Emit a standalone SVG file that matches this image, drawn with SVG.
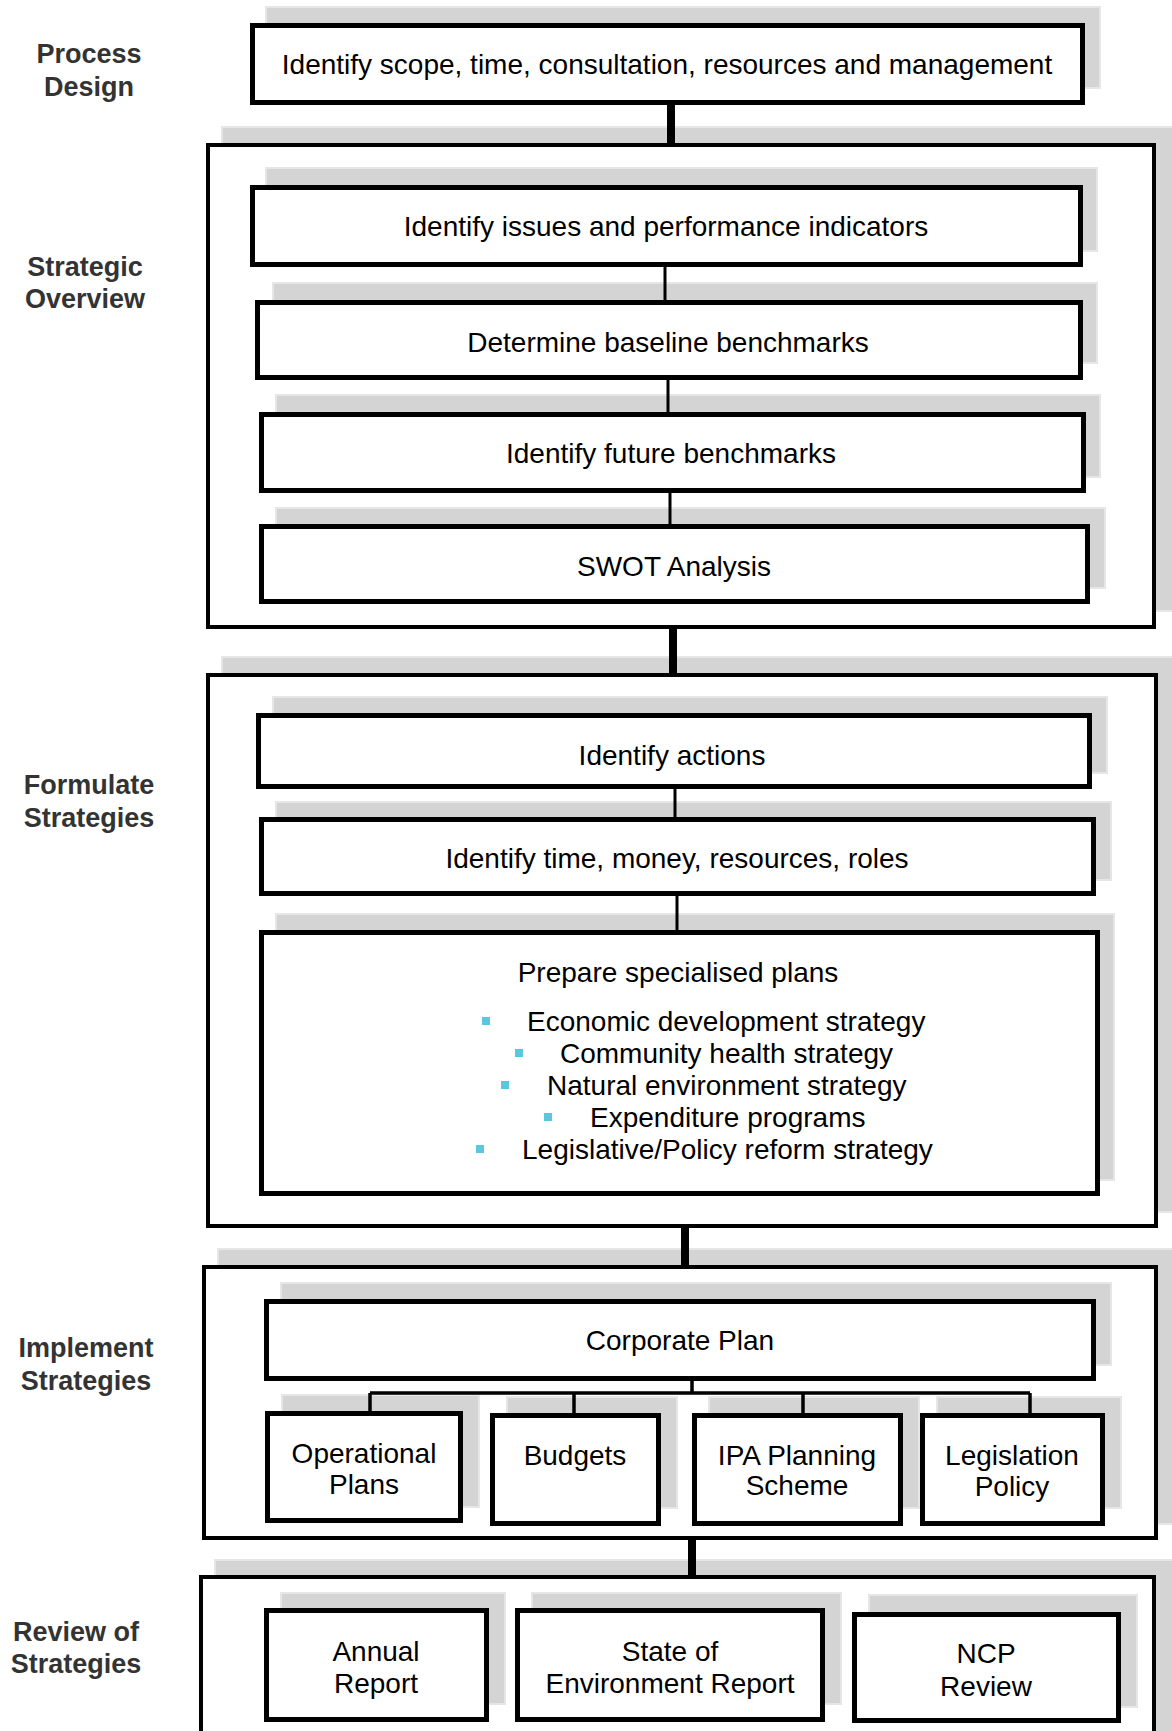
<svg xmlns="http://www.w3.org/2000/svg" width="1172" height="1731" viewBox="0 0 1172 1731">
<style>
.sh{fill:#d4d4d4;stroke:#e6e6e6;stroke-width:2}
.bx{fill:#fff;stroke:#000;stroke-width:5}
.big{fill:#fff;stroke:#000;stroke-width:4}
.t{font-family:"Liberation Sans",Arial,sans-serif;font-size:28px;fill:#000;text-anchor:middle}
.tl{font-family:"Liberation Sans",Arial,sans-serif;font-size:28px;fill:#000}
.lb{font-family:"Liberation Sans",Arial,sans-serif;font-size:27px;font-weight:bold;fill:#333;text-anchor:middle}
.bul{fill:#5bc6e0}
.thick{stroke:#000;stroke-width:8;fill:none}
.thin{stroke:#000;stroke-width:3;fill:none}
</style>
<rect width="1172" height="1731" fill="#fff"/>

<g id="labels">
<text class="lb" x="89" y="63">Process</text><text class="lb" x="89" y="96">Design</text>
<text class="lb" x="85" y="276">Strategic</text><text class="lb" x="85" y="308">Overview</text>
<text class="lb" x="89" y="794">Formulate</text><text class="lb" x="89" y="827">Strategies</text>
<text class="lb" x="86" y="1357">Implement</text><text class="lb" x="86" y="1390">Strategies</text>
<text class="lb" x="76" y="1641">Review of</text><text class="lb" x="76" y="1673">Strategies</text>
</g>

<g id="process-design">
<rect class="sh" x="266" y="7" width="834" height="81"/>
<rect class="bx" x="252.5" y="25.5" width="830" height="77"/>
<text class="t" x="667" y="74">Identify scope, time, consultation, resources and management</text>
</g>

<g id="strategic-overview">
<rect class="sh" x="222" y="127" width="952" height="484"/>
<rect class="big" x="208" y="145" width="946" height="482"/>
</g>
<g id="issues">
<rect class="sh" x="266" y="168" width="831" height="83"/>
<rect class="bx" x="252.5" y="187.5" width="828" height="77"/>
<text class="t" x="666" y="236">Identify issues and performance indicators</text>
</g>
<g id="baseline">
<rect class="sh" x="273" y="283" width="824" height="80"/>
<rect class="bx" x="257.5" y="302.5" width="823" height="75"/>
<text class="t" x="668" y="352">Determine baseline benchmarks</text>
</g>
<g id="future">
<rect class="sh" x="276" y="395" width="824" height="82"/>
<rect class="bx" x="261.5" y="414.5" width="822" height="76"/>
<text class="t" x="671" y="463">Identify future benchmarks</text>
</g>
<g id="swot">
<rect class="sh" x="276" y="508" width="829" height="80"/>
<rect class="bx" x="261.5" y="526.5" width="826" height="75"/>
<text class="t" x="674" y="576">SWOT Analysis</text>
</g>

<g id="formulate-strategies">
<rect class="sh" x="222" y="657" width="952" height="555"/>
<rect class="big" x="208" y="675" width="948" height="551"/>
</g>
<g id="actions">
<rect class="sh" x="273" y="697" width="834" height="76"/>
<rect class="bx" x="258.5" y="715.5" width="831" height="71"/>
<text class="t" x="672" y="765">Identify actions</text>
</g>
<g id="resources">
<rect class="sh" x="276" y="802" width="835" height="78"/>
<rect class="bx" x="261.5" y="819.5" width="832" height="74"/>
<text class="t" x="677" y="868">Identify time, money, resources, roles</text>
</g>
<g id="specialised-plans">
<rect class="sh" x="276" y="914" width="838" height="266"/>
<rect class="bx" x="261.5" y="932.5" width="836" height="261"/>
<text class="t" x="678" y="982">Prepare specialised plans</text>
<rect class="bul" x="482" y="1017" width="8" height="8"/>
<text class="tl" x="527" y="1031">Economic development strategy</text>
<rect class="bul" x="515" y="1049" width="8" height="8"/>
<text class="tl" x="560" y="1063">Community health strategy</text>
<rect class="bul" x="501" y="1081" width="8" height="8"/>
<text class="tl" x="547" y="1095">Natural environment strategy</text>
<rect class="bul" x="544" y="1113" width="8" height="8"/>
<text class="tl" x="590" y="1127">Expenditure programs</text>
<rect class="bul" x="476" y="1145" width="8" height="8"/>
<text class="tl" x="522" y="1159">Legislative/Policy reform strategy</text>
</g>

<g id="implement-strategies">
<rect class="sh" x="218" y="1249" width="956" height="275"/>
<rect class="big" x="204" y="1267" width="952" height="271"/>
</g>
<g id="corporate-plan">
<rect class="sh" x="281" y="1283" width="830" height="82"/>
<rect class="bx" x="266.5" y="1301.5" width="827" height="77"/>
<text class="t" x="680" y="1350">Corporate Plan</text>
</g>
<g id="operational-plans">
<rect class="sh" x="282" y="1395" width="197" height="112"/>
<rect class="bx" x="267.5" y="1413.5" width="193" height="107"/>
<text class="t" x="364" y="1463">Operational</text><text class="t" x="364" y="1494">Plans</text>
</g>
<g id="budgets">
<rect class="sh" x="507" y="1397" width="170" height="111"/>
<rect class="bx" x="492.5" y="1415.5" width="166" height="108"/>
<text class="t" x="575" y="1465">Budgets</text>
</g>
<g id="ipa-planning-scheme">
<rect class="sh" x="709" y="1397" width="210" height="111"/>
<rect class="bx" x="694.5" y="1415.5" width="206" height="108"/>
<text class="t" x="797" y="1465">IPA Planning</text><text class="t" x="797" y="1495">Scheme</text>
</g>
<g id="legislation-policy">
<rect class="sh" x="937" y="1397" width="184" height="111"/>
<rect class="bx" x="922.5" y="1415.5" width="180" height="108"/>
<text class="t" x="1012" y="1465">Legislation</text><text class="t" x="1012" y="1496">Policy</text>
</g>

<g id="review-of-strategies">
<rect class="sh" x="215" y="1560" width="959" height="200"/>
<rect class="big" x="201" y="1577" width="953" height="200"/>
</g>
<g id="annual-report">
<rect class="sh" x="281" y="1593" width="224" height="111"/>
<rect class="bx" x="266.5" y="1610.5" width="220" height="109"/>
<text class="t" x="376" y="1661">Annual</text><text class="t" x="376" y="1693">Report</text>
</g>
<g id="state-of-environment-report">
<rect class="sh" x="532" y="1593" width="309" height="111"/>
<rect class="bx" x="517.5" y="1610.5" width="305" height="109"/>
<text class="t" x="670" y="1661">State of</text><text class="t" x="670" y="1693">Environment Report</text>
</g>
<g id="ncp-review">
<rect class="sh" x="869" y="1595" width="268" height="112"/>
<rect class="bx" x="854.5" y="1614.5" width="264" height="106"/>
<text class="t" x="986" y="1663">NCP</text><text class="t" x="986" y="1696">Review</text>
</g>

<g id="connectors">
<line class="thick" x1="671" y1="104" x2="671" y2="146"/>
<line class="thin" x1="665" y1="266" x2="665" y2="301"/>
<line class="thin" x1="668" y1="379" x2="668" y2="413"/>
<line class="thin" x1="670" y1="492" x2="670" y2="525"/>
<line class="thick" x1="673" y1="628" x2="673" y2="676"/>
<line class="thin" x1="675" y1="788" x2="675" y2="818"/>
<line class="thin" x1="677" y1="895" x2="677" y2="931"/>
<line class="thick" x1="685" y1="1227" x2="685" y2="1268"/>
<path class="thin" style="stroke-width:3.5" d="M692 1380V1393M370 1393H1030M370 1393V1412M574 1393V1414M803 1393V1414M1030 1393V1414"/>
<line class="thick" x1="692" y1="1539" x2="692" y2="1578"/>
</g>
</svg>
